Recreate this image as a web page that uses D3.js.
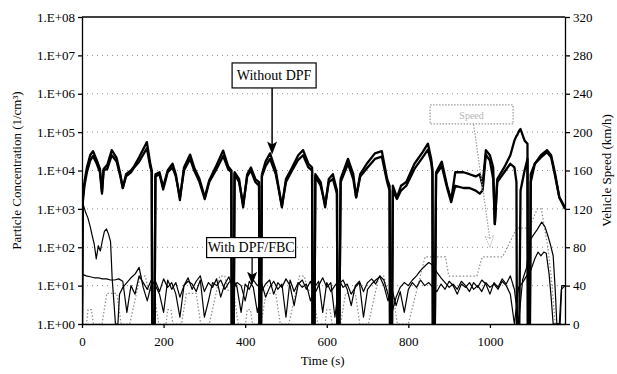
<!DOCTYPE html>
<html>
<head>
<meta charset="utf-8">
<style>
  body { margin: 0; background: #fff; }
  svg { display: block; }
  svg text { font-family: "Liberation Serif", "Times New Roman", serif; }
  .axis text { font-size: 13px; fill: #000; }
  .axis path, .axis line { stroke: #000; stroke-width: 1.3; }
</style>
</head>
<body>
<div id="chart"></div>
<script src="https://d3js.org/d3.v7.min.js"></script>
<script>
// ---- data ----
// time (s) of the "Without DPF" samples, shared by both runs
var woTime = [
  0,2,6,12,20,27,35,44,49,53,
  62,73,85,94,100,108,120,128,140,159,
  167,171,172,178,180,190,199,210,222,230,
  240,250,265,275,288,301,312,330,346,358,
  366,367,372,374,385,395,405,414,425,434,
  435,439,441,450,461,475,490,500,515,530,
  542,555,564,565,570,572,585,596,605,615,
  625,626,631,634,652,665,672,682,700,718,
  735,748,754,755,760,762,772,782,795,815,
  835,848,856,859,860,865,868,882,895,905,
  915,935,950,965,975,982,990,1000,1008,1012,
  1018,1035,1050,1060,1065,1066,1072,1075,1085,1092,
  1093,1098,1100,1110,1125,1140,1150,1160,1170,1184];
// particle concentration (1/cm3), without DPF, run 1 and run 2
var woRun1 = [
  1,2e3,5e3,1.2e4,2.5e4,3.2e4,2e4,1.1e4,2.8e3,1.1e4,
  1.4e4,3.4e4,2.1e4,8e3,3.5e3,8e3,1e4,1.3e4,2.2e4,5.5e4,
  1.6e4,1e4,1,1,8e3,9e3,3.7e3,1e4,1.5e4,8e3,
  1.7e3,1.2e4,2.6e4,1.2e4,6e3,2e3,5.6e3,1.4e4,3.3e4,1.3e4,
  1e4,1,1,9e3,6e3,1.1e3,8e3,1.2e4,6e3,5e3,
  1,1,8e3,1.7e4,2.8e4,1e4,1.1e3,6e3,1.2e4,2.5e4,
  3.4e4,1.5e4,1.2e4,1,1,8e3,5e3,1.1e3,6e3,8e3,
  3e3,1,1,6e3,2e4,8e3,2e3,8e3,1.6e4,2.8e4,
  3.2e4,6e3,4e3,1,1,4e3,2e3,4e3,5e3,1.5e4,
  3e4,5e4,2e4,1.1e4,1,1,9e3,1.7e4,4e3,1.7e3,
  9e3,9e3,8e3,7e3,8e3,4e3,3.4e4,2.5e4,1.2e4,4e2,
  6e3,1.2e4,2.5e4,6e4,8e4,8e4,1.1e5,1.2e5,6e4,5e4,
  1,1,5e3,1.5e4,2.5e4,3.4e4,2.5e4,8e3,2e3,1.1e3];
var woRun2 = [
  1,1.5e3,4e3,9e3,1.8e4,2.4e4,1.6e4,9e3,2.5e3,1e4,
  1.1e4,2.5e4,1.7e4,7e3,3.5e3,7e3,9e3,1.2e4,1.7e4,3.8e4,
  1.3e4,9e3,1,1,7e3,8e3,3.2e3,9e3,1.2e4,7e3,
  2e3,1e4,2e4,1e4,5e3,1.8e3,5e3,1.1e4,2.4e4,1.1e4,
  9e3,1,1,8e3,5e3,1.3e3,7e3,1e4,5e3,4e3,
  1,1,7e3,1.3e4,2e4,8e3,1.2e3,5e3,1e4,1.9e4,
  2.5e4,1.2e4,1e4,1,1,7e3,4e3,1.3e3,5e3,6e3,
  2.5e3,1,1,5e3,1.5e4,6e3,2e3,7e3,1.2e4,2e4,
  2.3e4,5e3,3e3,1,1,3e3,1.8e3,3e3,4e3,1.1e4,
  2.2e4,3.5e4,1.6e4,9e3,1,1,8e3,1.3e4,3.5e3,1.5e3,
  4e3,3.5e3,3.5e3,3e3,2.5e3,3e3,2.6e4,1.8e4,6e3,4e2,
  5e3,9e3,1.5e4,1.2e4,5e3,1,1,3e3,1e4,2e4,
  1,1,8e3,1.5e4,2.2e4,3e4,2.2e4,7e3,2e3,1e3];

// with DPF/FBC, run 1: start, middle (every 10 s from 100 to 1080 s), end
var w1StartTime = [0,4,9,14,20,25,30,35,40,45,50,55,60,65,70,74,78,82,88,92];
var w1Start = [1500,1200,800,600,350,200,120,50,110,80,150,260,300,220,140,15,4,1,1,6];
var w1Mid = [
  9,12,16,20,30,9,4,11,13,7,
  15,9,12,6,1.5,10,16,8,13,18,
  7,12,9,15,5,11,17,8,12,10,
  4,13,9,2,7,11,14,6,12,9,
  15,10,3,11,14,8,13,6,10,16,
  9,12,1.5,11,14,8,3,10,13,7,
  12,15,11,18,14,6,2,5,9,12,
  10,14,18,25,32,40,34,22,16,12,
  9,11,8,13,10,7,12,9,14,11,
  6,12,9,15,11,18,8,1,14];
var w1EndTime = [1090,1098,1108,1115,1127,1135,1142,1148,1155,1160,1164,1172,1176,1184];
var w1End = [30,150,220,280,450,340,200,120,60,8,1,1,10,10];

// with DPF/FBC, run 2
var w2StartTime = [0,10,20,30,40,50,60,70,80,90];
var w2Start = [20,18,17,16,16,15,15,14,14,15];
var w2Mid = [
  13,2,10,6,18,12,8,14,10,6,
  2,14,8,12,5,10,13,11,7,14,
  1.5,4,12,10,14,8,12,15,9,2,
  11,8,14,10,12,5,9,13,8,11,
  1.5,14,7,12,9,11,4,9,13,2,
  12,7,10,14,9,11,6,9,12,1.5,
  8,11,14,17,10,4,8,3,7,2,
  8,12,9,14,10,12,9,7,11,8,
  13,10,6,11,9,12,8,10,7,12,
  9,11,8,13,10,6,1,9,12];
var w2EndTime = [1090,1100,1110,1118,1125,1132,1138,1145,1150,1155,1170,1175,1184];
var w2End = [18,25,50,75,60,75,70,20,5,1,1,8,10];
var midStep = 10, midFrom = 100;

// vehicle speed (km/h), corner points of the trace
var speedTime = [
  0,11,15,23,28,49,61,85,96,117,143,155,163,176,188,
  206,210,218,223,244,256,280,291,312,338,350,358,371,383,
  401,405,413,418,439,451,475,486,507,533,545,553,566,578,
  596,600,608,613,634,646,670,681,702,728,740,748,761,773,
  800,841,891,899,968,981,1031,1066,1096,1116,1126,1142,1150,1160,1184];
var speedVal = [
  0,0,15,15,0,0,32,32,0,0,50,50,35,35,0,
  0,15,15,0,0,32,32,0,0,50,50,35,35,0,
  0,15,15,0,0,32,32,0,0,50,50,35,35,0,
  0,15,15,0,0,32,32,0,0,50,50,35,35,0,
  0,70,70,50,50,70,70,100,100,120,120,80,50,0,0];

var concTicks = [1,1e1,1e2,1e3,1e4,1e5,1e6,1e7,1e8];
var speedTicks = [0,40,80,120,160,200,240,280,320];
var timeTicks = [0,200,400,600,800,1000];

// ---- layout ----
var margin = {top: 17, right: 52, bottom: 50, left: 82};
var width = 617 - margin.left - margin.right,
    height = 374 - margin.top - margin.bottom;

var svg = d3.select("#chart").append("svg")
    .attr("width", 617).attr("height", 374);
var g = svg.append("g")
    .attr("transform", "translate(" + margin.left + "," + margin.top + ")");

var x = d3.scaleLinear().domain([0, 1184]).range([0, width]);
var yC = d3.scaleLog().domain([1, 1e8]).range([height, 0]);
var yS = d3.scaleLinear().domain([0, 320]).range([height, 0]);

function zip(ts, vs) { return ts.map(function(t, i) { return {t: t, v: vs[i]}; }); }
function joinRun(st, sv, mid, et, ev) {
  var m = mid.map(function(v, i) { return {t: midFrom + i * midStep, v: v}; });
  return zip(st, sv).concat(m, zip(et, ev));
}

var run1 = zip(woTime, woRun1), run2 = zip(woTime, woRun2);
var with1 = joinRun(w1StartTime, w1Start, w1Mid, w1EndTime, w1End);
var with2 = joinRun(w2StartTime, w2Start, w2Mid, w2EndTime, w2End);
var speed = zip(speedTime, speedVal);

g.append("clipPath").attr("id", "clip").append("rect")
    .attr("width", width).attr("height", height);

// dotted grid
g.selectAll("line.grid")
    .data(concTicks.slice(1, -1))
    .enter().append("line")
    .attr("class", "grid")
    .attr("x1", 0).attr("x2", width)
    .attr("y1", d => yC(d)).attr("y2", d => yC(d))
    .attr("stroke", "#8c8c8c").attr("stroke-width", 1)
    .attr("stroke-dasharray", "1,4");

var plot = g.append("g").attr("clip-path", "url(#clip)");

var lineC = d3.line().x(d => x(d.t)).y(d => yC(Math.max(1, d.v)));
var lineS = d3.line().x(d => x(d.t)).y(d => yS(d.v));

plot.append("path").datum(speed).attr("d", lineS)
    .attr("fill", "none").attr("stroke", "#8a8a8a")
    .attr("stroke-width", 1.2).attr("stroke-dasharray", "1.5,2");

[with1, with2].forEach(function(r) {
  plot.append("path").datum(r).attr("d", lineC)
      .attr("fill", "none").attr("stroke", "#000")
      .attr("stroke-width", 1.2).attr("stroke-linejoin", "round");
});

[run1, run2].forEach(function(r) {
  plot.append("path").datum(r).attr("d", lineC)
      .attr("fill", "none").attr("stroke", "#000")
      .attr("stroke-width", 2.3).attr("stroke-linejoin", "round");
});

// axes
var fmt = d => "1.E+" + String(Math.round(Math.log10(d))).padStart(2, "0");
g.append("g").attr("class", "axis")
    .call(d3.axisLeft(yC).tickValues(concTicks).tickFormat(fmt)
      .tickSize(4).tickSizeOuter(0).tickPadding(3));
g.append("g").attr("class", "axis")
    .attr("transform", "translate(" + width + ",0)")
    .call(d3.axisRight(yS).tickValues(speedTicks)
      .tickSize(5).tickSizeOuter(0).tickPadding(3));
g.append("g").attr("class", "axis")
    .attr("transform", "translate(0," + height + ")")
    .call(d3.axisBottom(x).tickValues(timeTicks).tickFormat(d3.format("d"))
      .tickSize(4).tickSizeOuter(0).tickPadding(9));
g.append("line").attr("x1", 0).attr("x2", width).attr("y1", 0).attr("y2", 0)
    .attr("stroke", "#000").attr("stroke-width", 1.3);

// titles
svg.append("text").attr("x", margin.left + x(590)).attr("y", 365)
    .attr("text-anchor", "middle").style("font-size", "13px").text("Time (s)");
svg.append("text")
    .attr("transform", "translate(21," + (margin.top + height / 2) + ") rotate(-90)")
    .attr("text-anchor", "middle").style("font-size", "13px")
    .text("Particle Concentration (1/cm³)");
svg.append("text")
    .attr("transform", "translate(611," + (margin.top + height / 2) + ") rotate(-90)")
    .attr("text-anchor", "middle").style("font-size", "13px")
    .text("Vehicle Speed (km/h)");

// annotations
function arrowHead(px, py, col) {
  g.append("path")
      .attr("d", "M" + px + "," + py + "l-5,-13l5,3l5,-3z")
      .attr("fill", col);
}
function labelBox(cx, cy, w, h, txt, dotted) {
  g.append("rect").attr("x", cx - w / 2).attr("y", cy - h / 2)
      .attr("width", w).attr("height", h)
      .attr("fill", "#fff")
      .attr("stroke", dotted ? "#999" : "#000")
      .attr("stroke-width", 1.2)
      .attr("stroke-dasharray", dotted ? "1.5,1.5" : null);
  g.append("text").attr("x", cx).attr("y", cy + 4.5)
      .attr("text-anchor", "middle")
      .style("font-size", dotted ? "10px" : "14px")
      .attr("fill", dotted ? "#b5b5b5" : "#000")
      .text(txt);
}

// Without DPF
var ax = x(466);
g.append("line").attr("x1", ax).attr("x2", ax)
    .attr("y1", yC(3e6) + 12).attr("y2", yC(2.6e4) - 4)
    .attr("stroke", "#000").attr("stroke-width", 1.5);
arrowHead(ax, yC(2.6e4), "#000");
labelBox(ax + 2, yC(3e6), 84, 25, "Without DPF", false);

// With DPF/FBC
var bx = x(417);
g.append("line").attr("x1", bx).attr("x2", bx)
    .attr("y1", yC(98) + 10).attr("y2", yC(10.5) - 4)
    .attr("stroke", "#000").attr("stroke-width", 1.3);
arrowHead(bx, yC(10.5), "#000");
labelBox(bx - 1, yC(98), 89, 20, "With DPF/FBC", false);

// Speed
var sx0 = x(955), sy0 = yC(2.9e5);
g.append("line").attr("x1", sx0 + 2).attr("x2", x(1000))
    .attr("y1", sy0 + 10).attr("y2", yS(82) - 6)
    .attr("stroke", "#999").attr("stroke-width", 1.2)
    .attr("stroke-dasharray", "1.5,1.5");
g.append("path")
    .attr("d", "M" + x(1000) + "," + yS(80) + "l-5,-11l5,2l4,-3z")
    .attr("fill", "none").attr("stroke", "#aaa").attr("stroke-dasharray", "1,1");
labelBox(sx0, sy0, 83, 19, "Speed", true);
</script>
</body>
</html>
